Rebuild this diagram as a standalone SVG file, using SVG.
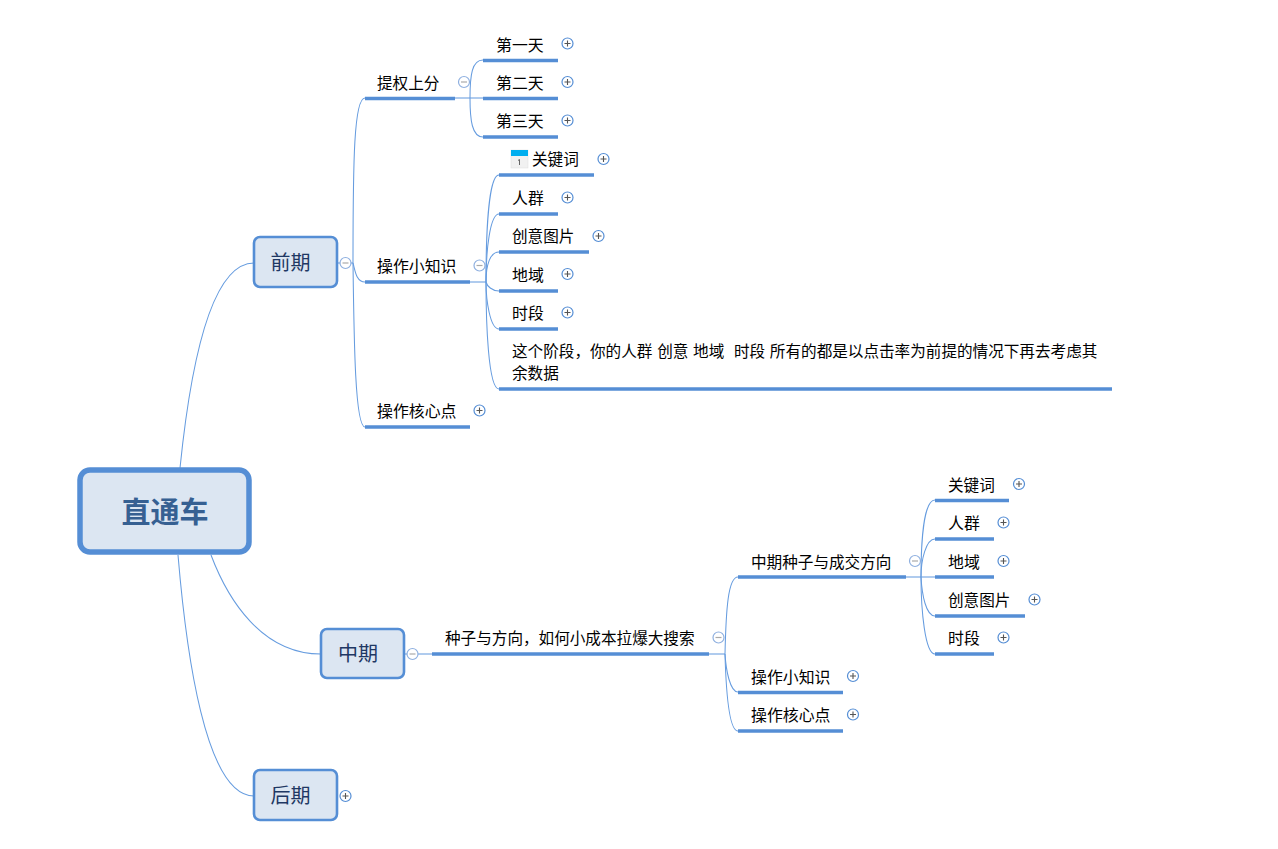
<svg xmlns="http://www.w3.org/2000/svg" width="1278" height="849" viewBox="0 0 1278 849">
<style>
text{font-family:"Noto Sans CJK SC","Liberation Sans",sans-serif;font-size:15.6px;fill:#000;white-space:pre}
.w{font-size:15.9px}
.c{fill:none;stroke:#669cdf;stroke-width:1.05}
.u{stroke:#558ed5;stroke-width:3.4;fill:none}
.box{fill:#dce6f2;stroke:#558ed5;stroke-width:2.6}
.m{font-size:20px;fill:#1f3864}
.t{fill:#fff;stroke:#8fb0e0;stroke-width:1.2}
.tp{fill:#fff;stroke:#558ed5;stroke-width:1.2}
.s{stroke:#555;stroke-width:1.1;fill:none}
</style>
<defs>
<g id="minus"><circle class="t" r="5.5"/><path d="M-3 0H3" stroke="#aaa" stroke-width="1.2"/></g>
<g id="plus"><circle class="tp" r="5.5"/><path class="s" d="M-3 0H3M0-3V3"/></g>
</defs>
<g id="connectors">
<path class="c" d="M180 468C190 370 210 263 254 263"/>
<path class="c" d="M211 555C228 600 262 654 321 654"/>
<path class="c" d="M178 555C186 650 205 796 254 796"/>
<path class="c" d="M337 263H353"/>
<path class="c" d="M353 263C353 160 354 98 365 98"/>
<path class="c" d="M353 263C355 270 356 282 365 282"/>
<path class="c" d="M353 263C354 340 355 427 365 427"/>
<path class="c" d="M455 98H483"/>
<path class="c" d="M470 98C470 75 472 60 483 60"/>
<path class="c" d="M470 98C470 120 472 137 483 137"/>
<path class="c" d="M470 282H486"/>
<path class="c" d="M486 282C486 230 489 175 499 175"/>
<path class="c" d="M486 282C486 250 490 214 499 214"/>
<path class="c" d="M486 282C486 265 490 252 499 252"/>
<path class="c" d="M486 282C487 286 492 291 499 291"/>
<path class="c" d="M486 282C486 300 490 329 499 329"/>
<path class="c" d="M486 282C486 320 488 389 499 389"/>
<path class="c" d="M404 654H432"/>
<path class="c" d="M709 654H725"/>
<path class="c" d="M725 654C726 610 728 577 738 577"/>
<path class="c" d="M725 654C726 670 730 692 738 692"/>
<path class="c" d="M725 654C726 690 729 731 738 731"/>
<path class="c" d="M906 577H935"/>
<path class="c" d="M921 577C921 540 924 500 935 500"/>
<path class="c" d="M921 577C921 560 926 539 935 539"/>
<path class="c" d="M921 577C922 595 926 616 935 616"/>
<path class="c" d="M921 577C921 610 925 654 935 654"/>
</g>
<g id="root"><rect x="80" y="470" width="169" height="82" rx="10" fill="#dce6f2" stroke="#558ed5" stroke-width="5.5"/><text x="165" y="523" text-anchor="middle" style="font-size:29px;font-weight:700;fill:#366092">直通车</text></g>
<g id="n-qianqi"><rect class="box" x="254" y="237" width="83" height="50" rx="6"/><text class="m" x="290.500" y="270" text-anchor="middle">前期</text><use href="#minus" x="345.500" y="263"/></g>
<g id="n-zhongqi"><rect class="box" x="321" y="629" width="83" height="49" rx="6"/><text class="m" x="358" y="661" text-anchor="middle">中期</text><use href="#minus" x="412.500" y="654"/></g>
<g id="n-houqi"><rect class="box" x="254" y="770" width="83" height="50" rx="6"/><text class="m" x="290.500" y="803" text-anchor="middle">后期</text><use href="#plus" x="345.500" y="796"/></g>
<g id="n1"><path class="u" d="M365 98.500H455"/><text x="377" y="89">提权上分</text><use href="#minus" x="464" y="82"/></g>
<g id="n2"><path class="u" d="M483 60.500H558"/><text class="w" x="496" y="51">第一天</text><use href="#plus" x="567.500" y="43.500"/></g>
<g id="n3"><path class="u" d="M483 98.500H558"/><text class="w" x="496" y="89">第二天</text><use href="#plus" x="567.500" y="82"/></g>
<g id="n4"><path class="u" d="M483 137H558"/><text class="w" x="496" y="127">第三天</text><use href="#plus" x="567.500" y="120.500"/></g>
<g id="n5"><path class="u" d="M365 282H470"/><text class="w" x="377" y="272">操作小知识</text><use href="#minus" x="479.500" y="265.500"/></g>
<g id="n6"><path class="u" d="M499 175H594"/><rect x="511" y="150" width="17" height="18" fill="#f1f1f1" stroke="#ddd" stroke-width=".5"/><rect x="511" y="150" width="17" height="6" fill="#00aeef"/><path d="M518 160.500l1.500-1v5.500" fill="none" stroke="#666" stroke-width="1"/><text x="532" y="165">关键词</text><use href="#plus" x="603.500" y="159"/></g>
<g id="n7"><path class="u" d="M499 214H558"/><text class="w" x="512" y="204">人群</text><use href="#plus" x="567.500" y="197.500"/></g>
<g id="n8"><path class="u" d="M499 252H589"/><text x="512" y="242">创意图片</text><use href="#plus" x="598.500" y="236"/></g>
<g id="n9"><path class="u" d="M499 291H558"/><text class="w" x="512" y="281">地域</text><use href="#plus" x="567.500" y="274"/></g>
<g id="n10"><path class="u" d="M499 329H558"/><text class="w" x="512" y="319">时段</text><use href="#plus" x="567.500" y="312.500"/></g>
<g id="n11"><path class="u" d="M499 389H1112"/><text x="512" y="357" style="word-spacing:1.3px">这个阶段，你的人群 创意 地域  时段 所有的都是以点击率为前提的情况下再去考虑其</text><text x="512" y="379">余数据</text></g>
<g id="n12"><path class="u" d="M365 427H470"/><text class="w" x="377" y="417">操作核心点</text><use href="#plus" x="479.500" y="410.500"/></g>
<g id="n13"><path class="u" d="M432 654H709"/><text x="445" y="644">种子与方向，如何小成本拉爆大搜索</text><use href="#minus" x="718.500" y="637.500"/></g>
<g id="n14"><path class="u" d="M738 577H906"/><text x="751" y="568">中期种子与成交方向</text><use href="#minus" x="915" y="561"/></g>
<g id="n15"><path class="u" d="M738 692.500H843"/><text class="w" x="751" y="683">操作小知识</text><use href="#plus" x="853" y="676"/></g>
<g id="n16"><path class="u" d="M738 731H843"/><text class="w" x="751" y="721">操作核心点</text><use href="#plus" x="853" y="714.500"/></g>
<g id="n17"><path class="u" d="M935 500.500H1009"/><text x="948" y="491">关键词</text><use href="#plus" x="1019" y="484"/></g>
<g id="n18"><path class="u" d="M935 539H994"/><text class="w" x="948" y="529">人群</text><use href="#plus" x="1003.500" y="522.500"/></g>
<g id="n19"><path class="u" d="M935 577H994"/><text class="w" x="948" y="568">地域</text><use href="#plus" x="1003.500" y="561"/></g>
<g id="n20"><path class="u" d="M935 616H1025"/><text x="948" y="606">创意图片</text><use href="#plus" x="1034.500" y="599.500"/></g>
<g id="n21"><path class="u" d="M935 654H994"/><text class="w" x="948" y="644">时段</text><use href="#plus" x="1003.500" y="637.500"/></g>
</svg>
